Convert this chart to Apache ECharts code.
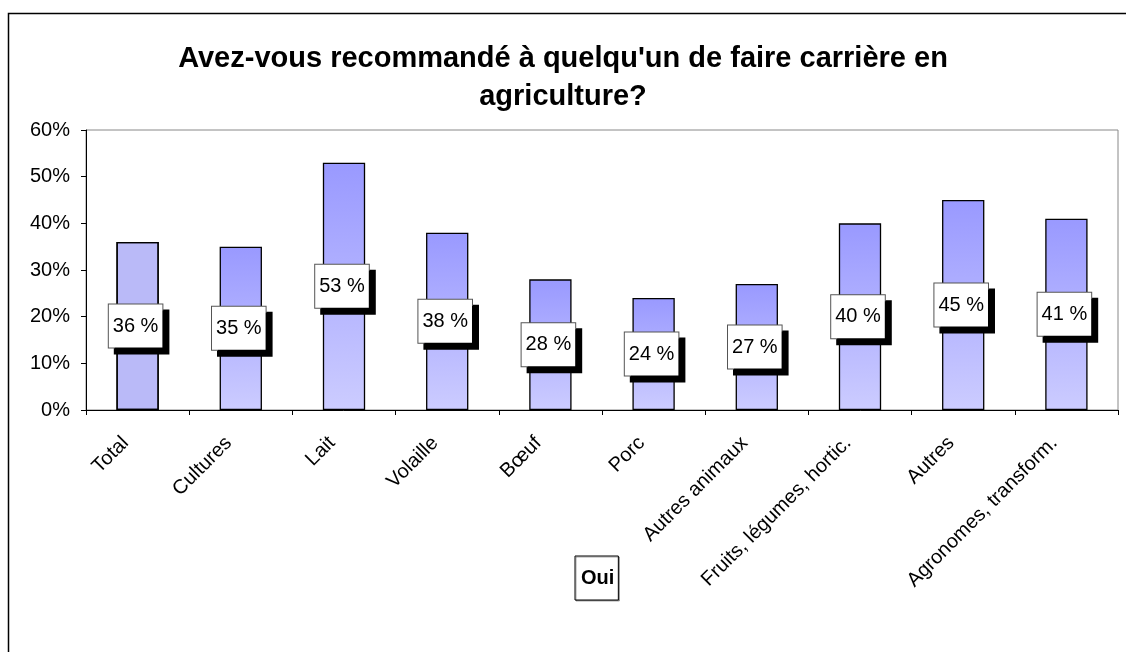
<!DOCTYPE html>
<html>
<head>
<meta charset="utf-8">
<script src="https://cdn.jsdelivr.net/npm/echarts@6/dist/echarts.min.js"></script>
<style>
  html, body { margin: 0; padding: 0; background: #fff; }
  #chart { width: 1126px; height: 652px; }
</style>
</head>
<body>
<div id="chart"></div>
<script>
// données
var categories = ['Total', 'Cultures', 'Lait', 'Volaille', 'Bœuf', 'Porc',
  'Autres animaux', 'Fruits, légumes, hortic.', 'Autres', 'Agronomes, transform.'];
var oui = [36, 35, 53, 38, 28, 24, 27, 40, 45, 41];
var yTicks = [0, 10, 20, 30, 40, 50, 60];

var chartDom = document.getElementById('chart');
var myChart = echarts.init(chartDom);
var option;

var gradient = new echarts.graphic.LinearGradient(0, 0, 0, 1, [
  { offset: 0, color: '#9999ff' },
  { offset: 1, color: '#ccccff' }
]);

var barData = oui.map(function (v, i) {
  if (i === 0) {
    // la barre "Total" est hachurée
    return {
      value: v,
      itemStyle: {
        color: '#babaf8',
        decal: {
          symbol: 'none',
          dashArrayX: [1, 0],
          dashArrayY: [1, 2],
          rotation: -Math.PI / 4,
          color: 'rgba(140,140,235,0.45)'
        }
      }
    };
  }
  return { value: v, itemStyle: { color: gradient } };
});

option = {
  animation: false,
  textStyle: { fontFamily: 'Liberation Sans, Arial, sans-serif', color: '#000' },
  graphic: [{
    type: 'rect',
    shape: { x: 8.5, y: 13.5, width: 1200, height: 700 },
    style: { fill: 'none', stroke: '#000', lineWidth: 1.5 },
    silent: true
  }],
  title: {
    text: "Avez-vous recommandé à quelqu'un de faire carrière en\nagriculture?",
    left: 'center',
    top: 35,
    textStyle: {
      fontSize: 29,
      fontWeight: 'bold',
      lineHeight: 38,
      color: '#000',
      fontFamily: 'Liberation Sans, Arial, sans-serif'
    }
  },
  legend: {
    data: ['Oui'],
    selectedMode: false,
    left: 575,
    top: 556,
    icon: 'none',
    itemWidth: 0,
    itemHeight: 20,
    padding: [12, 4, 12, 1],
    borderColor: '#000',
    borderWidth: 1,
    backgroundColor: '#fff',
    shadowColor: 'rgba(0,0,0,0.35)',
    shadowOffsetX: 1,
    shadowOffsetY: 1,
    textStyle: { fontSize: 20, fontWeight: 'bold', color: '#000' }
  },
  grid: {
    left: 86,
    right: 8,
    top: 130,
    bottom: 242,
    show: true,
    borderColor: '#888',
    borderWidth: 1,
    backgroundColor: '#fff'
  },
  xAxis: {
    type: 'category',
    data: categories,
    axisLine: { lineStyle: { color: '#000', width: 1 } },
    axisTick: { show: true, length: 5, lineStyle: { color: '#000' } },
    axisLabel: {
      rotate: 45,
      interval: 0,
      margin: 18,
      padding: [0, 17, 0, 0],
      fontSize: 20,
      color: '#000'
    }
  },
  yAxis: {
    type: 'value',
    min: 0,
    max: 60,
    interval: 10,
    axisLine: { show: true, lineStyle: { color: '#000', width: 1 } },
    axisTick: { show: true, length: 5, lineStyle: { color: '#000' } },
    splitLine: { show: false },
    axisLabel: {
      fontSize: 20,
      color: '#000',
      margin: 16,
      formatter: function (v) { return yTicks.indexOf(v) >= 0 ? v + '%' : ''; }
    }
  },
  series: [{
    name: 'Oui',
    type: 'bar',
    data: barData,
    barWidth: '41%',
    itemStyle: { borderColor: '#000', borderWidth: 1.3 },
    label: {
      show: true,
      position: 'inside',
      offset: [-2, 0],
      formatter: '{c} %',
      fontSize: 20,
      color: '#000',
      lineHeight: 21,
      backgroundColor: '#fff',
      borderColor: '#555',
      borderWidth: 1,
      padding: [11, 4],
      shadowColor: '#000',
      shadowBlur: 0,
      shadowOffsetX: 6,
      shadowOffsetY: 6
    }
  }]
};

option && myChart.setOption(option);
</script>
</body>
</html>
